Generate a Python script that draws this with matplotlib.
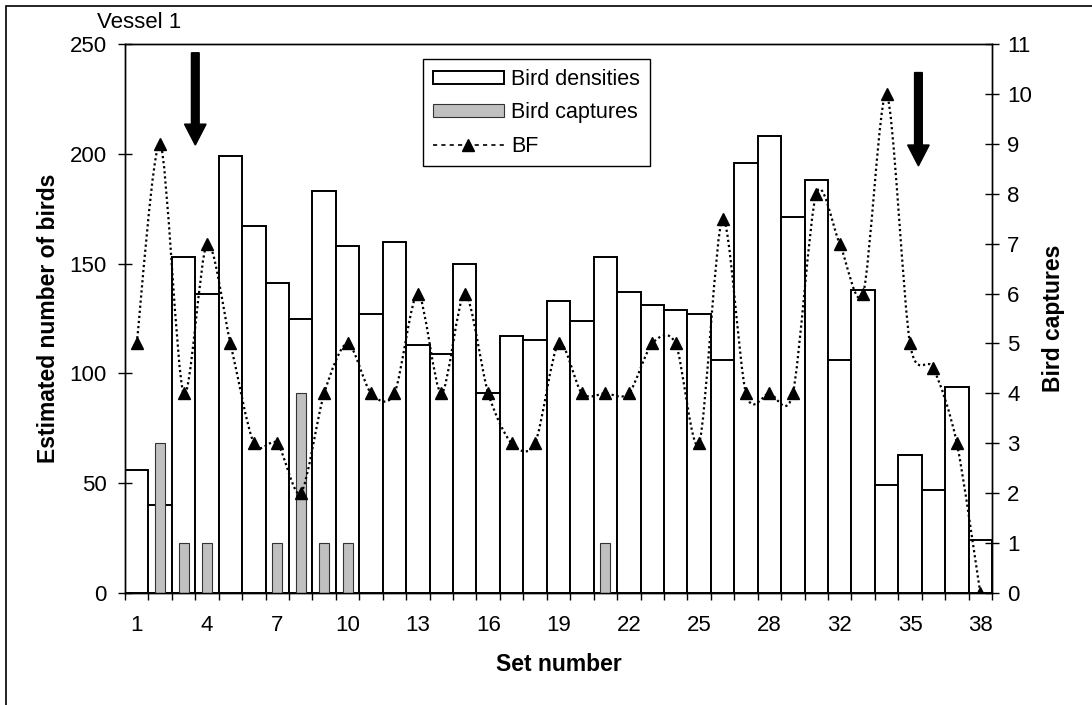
import numpy as np
import matplotlib.pyplot as plt
from matplotlib.path import Path
from matplotlib.patches import PathPatch, Rectangle
from matplotlib.lines import Line2D
from matplotlib.ticker import FixedLocator

plt.rcParams['font.family'] = ['Liberation Sans', 'DejaVu Sans']

# set numbers (no set 29 in the data)
set_numbers = [1, 2, 3, 4, 5, 6, 7, 8, 9, 10, 11, 12, 13, 14, 15, 16, 17, 18, 19,
               20, 21, 22, 23, 24, 25, 26, 27, 28, 30, 31, 32, 33, 34, 35, 36, 37, 38]
shown_labels = [1, 4, 7, 10, 13, 16, 19, 22, 25, 28, 32, 35, 38]

# estimated number of birds per set
densities = [56, 40, 153, 136, 199, 167, 141, 125, 183, 158, 127, 160, 113,
             109, 150, 91, 117, 115, 133, 124, 153, 137, 131, 129, 127, 106,
             196, 208, 171, 188, 106, 138, 49, 63, 47, 94, 24]

# bird captures per set
captures = [0, 3, 1, 1, 0, 0, 1, 4, 1, 1, 0, 0, 0, 0, 0, 0, 0, 0, 0, 0, 1,
            0, 0, 0, 0, 0, 0, 0, 0, 0, 0, 0, 0, 0, 0, 0, 0]

# BF
bf = [5, 9, 4, 7, 5, 3, 3, 2, 4, 5, 4, 4, 6, 4, 6, 4, 3, 3, 5, 4, 4, 4,
      5, 5, 3, 7.5, 4, 4, 4, 8, 7, 6, 10, 5, 4.5, 3, 0]

x = np.arange(len(set_numbers))

fig = plt.figure(figsize=(10.92, 7.05), dpi=100)
ax = fig.add_axes([125/1092, 1-593/705, 867/1092, 549/705])
ax2 = ax.twinx()

# outer chart border
fig.patches.append(Rectangle((6/1092, -0.1), 1.2, 1.1 - 6/705, transform=fig.transFigure,
                             fill=False, ec='black', lw=1.2))

ax.bar(x, densities, width=1.0, color='white', edgecolor='black', lw=1.4,
       label='Bird densities')
ax2.bar(x, captures, width=0.42, color='#c0c0c0', edgecolor='#333333', lw=0.8,
        label='Bird captures')

# smoothed BF line (Excel style bezier through the points)
pts = np.column_stack([x, bf]).astype(float)
ext = np.vstack([pts[0], pts, pts[-1]])
verts = [pts[0]]
codes = [Path.MOVETO]
k = 1/7
for i in range(len(pts) - 1):
    p0, p1, p2, p3 = ext[i], ext[i+1], ext[i+2], ext[i+3]
    verts += [p1 + (p2 - p0)*k, p2 - (p3 - p1)*k, p2]
    codes += [Path.CURVE4]*3
ax2.add_patch(PathPatch(Path(verts, codes), fill=False, ec='black', lw=1.6,
                        ls=(0, (1, 1.3))))
ax2.plot(x, bf, ls='none', marker='^', ms=9, color='black')

# arrows
for xa, ytop, ytip in [(2.5, 246, 204), (33.36, 237, 194.5)]:
    ax.arrow(xa, ytop, 0, ytip - ytop, width=0.33, head_width=0.92, head_length=9.5,
             length_includes_head=True, fc='black', ec='black', zorder=5)

ax.set_xlim(-0.5, len(x) - 0.5)
ax.set_ylim(0, 250)
ax2.set_ylim(0, 11)
ax.set_yticks(np.arange(0, 251, 50))
ax2.set_yticks(np.arange(0, 12, 1))

ax.set_xticks([set_numbers.index(s) for s in shown_labels])
ax.set_xticklabels([str(s) for s in shown_labels])
ax.xaxis.set_minor_locator(FixedLocator(np.arange(-0.5, len(x), 1)))
ax.tick_params(axis='x', which='major', length=0, pad=16, labelsize=16)
ax.tick_params(axis='x', which='minor', direction='out', length=5, width=1)
ax.tick_params(axis='y', direction='inout', length=10, width=1, pad=8, labelsize=16)
ax2.tick_params(axis='y', direction='inout', length=10, width=1, pad=6, labelsize=16)

for a in (ax, ax2):
    for sp in a.spines.values():
        sp.set_linewidth(1.0)

ax.set_xlabel('Set number', fontsize=16.5, fontweight='bold', labelpad=12)
ax.set_ylabel('Estimated number of birds', fontsize=16.5, fontweight='bold', labelpad=7)
ax2.set_ylabel('Bird captures', fontsize=16.5, fontweight='bold', labelpad=7)

fig.text(97/1092, 1 - 23/705, 'Vessel 1', fontsize=16, va='center', ha='left')

h1, l1 = ax.get_legend_handles_labels()
h2, l2 = ax2.get_legend_handles_labels()
bf_handle = Line2D([], [], color='black', lw=1.2, ls=(0, (2.5, 2.5)), marker='^', ms=9)
leg = ax2.legend(h1 + h2 + [bf_handle], l1 + l2 + ['BF'], loc='upper left',
                 bbox_to_anchor=(423/1092, 1 - 59/705), bbox_transform=fig.transFigure,
                 fontsize=15.5, frameon=True, fancybox=False, framealpha=1,
                 edgecolor='black', borderaxespad=0, handlelength=3.3, handleheight=0.55,
                 handletextpad=0.35, labelspacing=0.58, borderpad=0.45, numpoints=1)
leg.get_frame().set_linewidth(1.0)

fig.savefig('out.png', dpi=100)
